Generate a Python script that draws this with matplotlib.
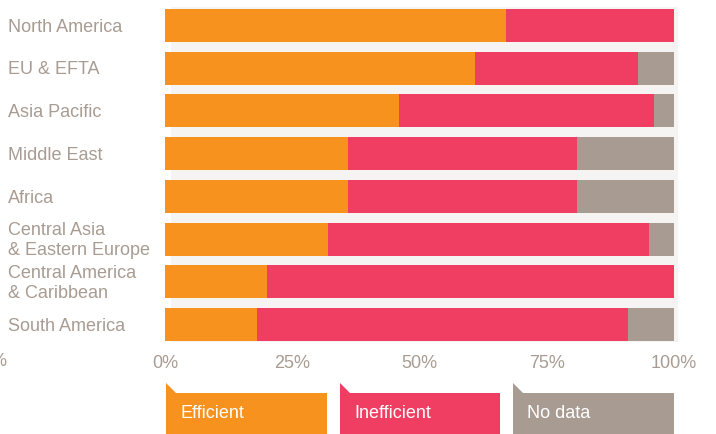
import matplotlib.pyplot as plt
import matplotlib.transforms as mtransforms
from matplotlib.patches import Rectangle, Polygon

regions = ['North America', 'EU & EFTA', 'Asia Pacific', 'Middle East', 'Africa',
           'Central Asia\n& Eastern Europe', 'Central America\n& Caribbean', 'South America']
efficient = [67, 61, 46, 36, 36, 32, 20, 18]
inefficient = [33, 32, 50, 45, 45, 63, 80, 73]
no_data = [0, 7, 4, 19, 19, 5, 0, 9]
series_names = ['Efficient', 'Inefficient', 'No data']
x_ticks = [0, 25, 50, 75, 100]

colors = ['#f7921e', '#f03e62', '#a89c92']
text_color = '#a89c92'
W, H = 716, 434

plt.rcParams['font.family'] = ['Liberation Sans', 'DejaVu Sans']

fig = plt.figure(figsize=(W / 100, H / 100), dpi=100)

# light panel behind the bars
fig.patches.append(Rectangle((171 / W, 1 - 342 / H), (678 - 171) / W, (342 - 7) / H,
                             transform=fig.transFigure, facecolor='#f6f4f2',
                             edgecolor='none', zorder=0))

bar_h = 0.773
ax = fig.add_axes([165 / W, 1 - 341 / H, (674 - 165) / W, (341 - 9) / H])
ax.set_facecolor('none')
ax.set_zorder(1)

ypos = list(range(len(regions)))
left = [0] * len(regions)
for vals, col in zip([efficient, inefficient, no_data], colors):
    ax.barh(ypos, vals, left=left, height=bar_h, color=col, linewidth=0)
    left = [l + v for l, v in zip(left, vals)]

ax.set_xlim(0, 100)
ax.set_ylim(len(regions) - 1 + bar_h / 2, -bar_h / 2)
ax.set_yticks([])
ax.set_xticks(x_ticks)
ax.set_xticklabels([f'{t}%' for t in x_ticks])
ax.tick_params(axis='x', length=0, pad=10, labelsize=13, labelcolor=text_color)
for s in ax.spines.values():
    s.set_visible(False)

# category labels, left aligned at the figure edge
trans = mtransforms.blended_transform_factory(fig.transFigure, ax.transData)
for y, name in zip(ypos, regions):
    ax.text(8 / W, y + 0.04, name, transform=trans, ha='left', va='center',
            fontsize=13, color=text_color, linespacing=1.2)

# stray label cut at the left edge
fig.text(6 / W, 1 - 361 / H, '%', ha='right', va='center', fontsize=13, color=text_color)

# legend tabs
tabs = [(166, 327), (340, 500), (513, 674)]
for (x0, x1), name, col in zip(tabs, series_names, colors):
    pts = [(x0, 383), (x0 + 10, 393), (x1, 393), (x1, 434), (x0, 434)]
    pts = [(px / W, 1 - py / H) for px, py in pts]
    fig.patches.append(Polygon(pts, closed=True, transform=fig.transFigure,
                               facecolor=col, edgecolor='none'))
    fig.text((x0 + 14) / W, 1 - 414 / H, name, ha='left', va='center',
             fontsize=13, color='white')

fig.savefig('out.png', dpi=100)
